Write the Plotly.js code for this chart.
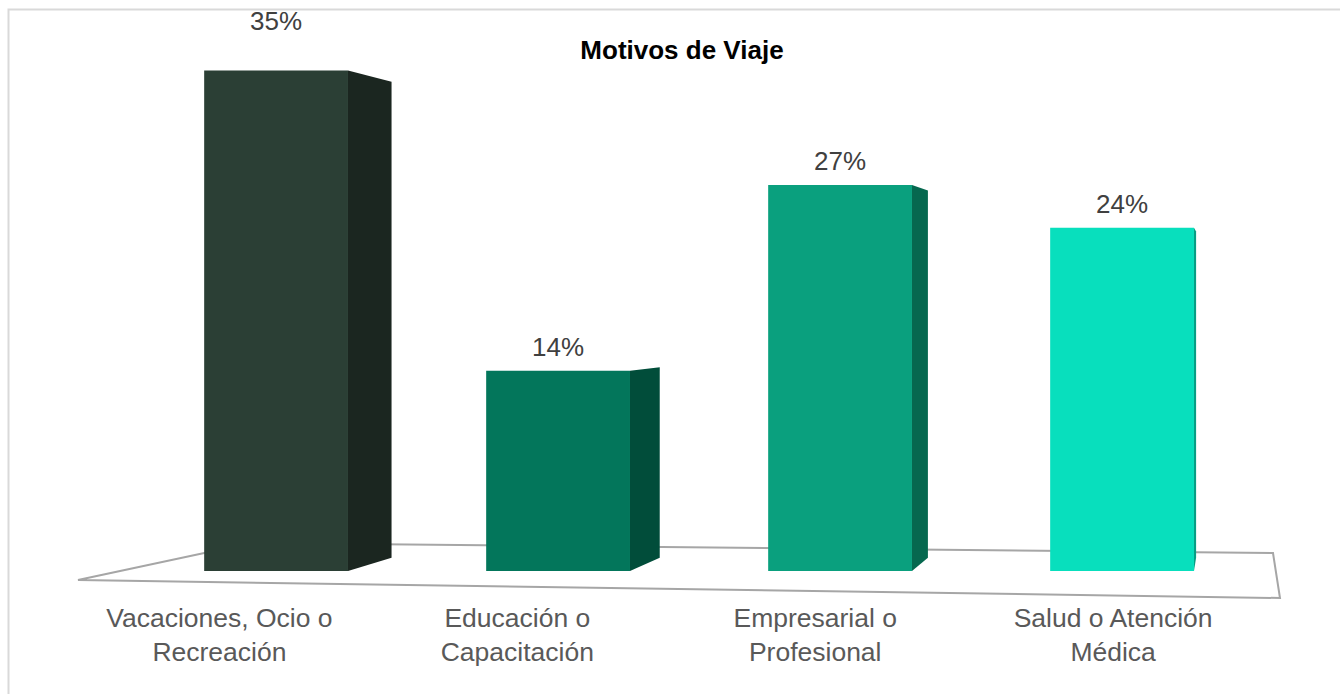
<!DOCTYPE html>
<html>
<head>
<meta charset="utf-8">
<script src="https://cdn.plot.ly/plotly-3.0.1.min.js"></script>
<style>html,body{margin:0;padding:0;background:#fff;overflow:hidden;}#chart{width:1340px;height:694px;}</style>
</head>
<body>
<div id="chart"></div>
<script>
// ---- data ----
const categories = ['Vacaciones, Ocio o<br>Recreación', 'Educación o<br>Capacitación', 'Empresarial o<br>Profesional', 'Salud o Atención<br>Médica'];
const values = [35, 14, 27, 24];
const valueLabels = ['35%', '14%', '27%', '24%'];

// ---- styles ----
const frontColors = ['#2B3F35', '#03765B', '#0AA07E', '#08DFBD'];
const sideColors = ['#1B2620', '#014D3A', '#06684F', '#079E84'];
const labelLift = [50, 24, 24, 24];

const W = 1340, H = 694, MB = 99;
const plotH = H - MB;
const FONT = 'Arial, "Liberation Sans", sans-serif';
const barWidth = 0.51;
const xRange = [-0.979, -0.979 + W / 282];
const yRange = [-1.68, 39.93];
const x2Range = [-0.7365, -0.7365 + W / 297.9];

// perspective helpers (data space)
const depth = 0.049;
const vp = {x: 3.4075, y: 18.88};
const idx = categories.map((_, i) => i);

function px2paper(px, py) { return [px / W, (plotH - py) / plotH]; }
function paperPath(pts, close) {
  return pts.map((p, k) => { const q = px2paper(p[0], p[1]); return (k ? 'L' : 'M') + q[0].toFixed(5) + ',' + q[1].toFixed(5); }).join(' ') + (close ? ' Z' : '');
}

const shapes = [];
// frame (top and left edges visible)
shapes.push({type: 'path', xref: 'paper', yref: 'paper', layer: 'below',
  path: paperPath([[8.5, 694], [8.5, 9.5], [1340, 9.5]], false),
  line: {color: '#D9D9D9', width: 2}, fillcolor: 'rgba(0,0,0,0)'});
// floor
shapes.push({type: 'path', xref: 'paper', yref: 'paper', layer: 'below',
  path: paperPath([[78, 580], [251, 543], [1273, 553], [1280, 598]], true),
  line: {color: '#A6A6A6', width: 2}, fillcolor: 'rgba(255,255,255,0)'});
// side faces of the bars, derived from the values
idx.forEach(i => {
  const xr = i + barWidth / 2;
  const v = values[i];
  const bx = xr + depth * (vp.x - xr);
  const byTop = v + depth * (vp.y - v);
  const byBot = 0 + depth * (vp.y - 0);
  shapes.push({type: 'path', xref: 'x', yref: 'y', layer: 'below',
    path: `M${xr},${v} L${bx},${byTop} L${bx},${byBot} L${xr},0 Z`,
    fillcolor: sideColors[i], line: {width: 0}});
});

const annotations = idx.map(i => ({
  x: i, y: values[i], xref: 'x', yref: 'y', text: valueLabels[i], showarrow: false,
  yanchor: 'middle', yshift: labelLift[i], font: {family: FONT, size: 26, color: '#404040'}
}));

const traces = [
  {type: 'bar', x: idx, y: values, width: barWidth, marker: {color: frontColors, line: {width: 0}},
   hoverinfo: 'skip', xaxis: 'x', yaxis: 'y', showlegend: false},
  {type: 'scatter', x: idx, y: idx.map(() => null), xaxis: 'x2', yaxis: 'y', hoverinfo: 'skip', showlegend: false, mode: 'markers'}
];

const layout = {
  width: W, height: H,
  margin: {l: 0, r: 0, t: 0, b: MB, pad: 0},
  paper_bgcolor: '#fff', plot_bgcolor: 'rgba(0,0,0,0)',
  showlegend: false,
  title: {text: '<b>Motivos de Viaje</b>', font: {family: FONT, size: 26, color: '#000'},
          x: 682 / W, xanchor: 'center', xref: 'paper', y: 1 - 50 / H, yanchor: 'middle', yref: 'container'},
  xaxis: {range: xRange, showgrid: false, zeroline: false, showline: false, showticklabels: false, ticks: '', fixedrange: true},
  xaxis2: {range: x2Range, overlaying: 'x', anchor: 'y', side: 'bottom', tickmode: 'array', tickvals: idx, ticktext: categories,
           showgrid: false, zeroline: false, showline: false, ticks: '', ticklabelstandoff: 4,
           tickfont: {family: FONT, size: 26.5, color: '#595959'}, automargin: false},
  yaxis: {range: yRange, showgrid: false, zeroline: false, showline: false, showticklabels: false, ticks: '', automargin: false},
  shapes: shapes,
  annotations: annotations
};

Plotly.newPlot('chart', traces, layout, {displayModeBar: false, staticPlot: true});
</script>
</body>
</html>
